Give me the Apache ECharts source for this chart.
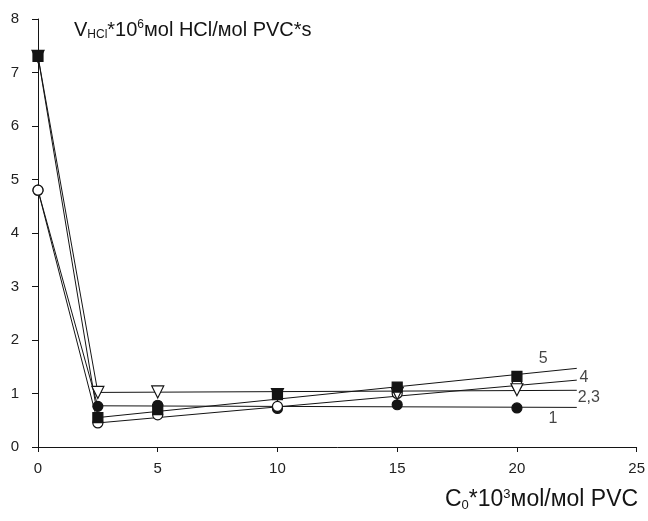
<!DOCTYPE html>
<html><head><meta charset="utf-8">
<script src="https://cdn.jsdelivr.net/npm/echarts@6/dist/echarts.min.js"></script>
<style>html,body{margin:0;padding:0;background:#fff}#c{width:648px;height:521px}</style>
</head><body><div id="c"></div>
<script>
// Measured points (x = C0*10^3, y = V_HCl*10^6)
const xs = [0, 2.5, 5, 10, 15, 20];
const s5 = [7.3, 0.55, 0.70, 0.98, 1.12, 1.32];   // filled squares
const s4 = [4.8, 0.45, 0.60, 0.76, 1.00, 1.17];   // open circles
const s23 = [7.3, 1.02, 1.03, 0.98, 1.00, 1.07];  // open triangles
const s1 = [4.8, 0.76, 0.78, 0.72, 0.79, 0.73];   // filled circles
// Straight fitted lines from 2.5 to 22.5
const fitX = [2.5, 22.5];
const fit5 = [0.55, 1.47];
const fit4 = [0.45, 1.25];
const fit23 = [1.02, 1.06];
const fit1 = [0.77, 0.74];
// curve labels
const curveNames = ['5', '4', '2,3', '1'];
const curveLabelX = [21.1, 22.8, 23.0, 21.5];
const curveLabelY = [1.66, 1.29, 0.93, 0.54];
const xTicks = [0, 5, 10, 15, 20, 25];
const yTicks = [0, 1, 2, 3, 4, 5, 6, 7, 8];

const ink = '#141414';
const font = '"Liberation Sans", Arial, sans-serif';
const pts = ys => xs.map((x, i) => [x, ys[i]]);
const conn = ys => [[xs[0], ys[0]], [xs[1], ys[1]]];
const fit = ys => fitX.map((x, i) => [x, ys[i]]);

function lineSeries(data) {
  return { type: 'line', data, symbol: 'none', silent: true, z: 2,
    lineStyle: { color: ink, width: 1 } };
}
function markSeries(data, symbol, filled, size, rotate) {
  return { type: 'scatter', data, symbol, symbolSize: size, symbolRotate: rotate || 0, z: 5,
    itemStyle: { color: filled ? ink : '#fff', borderColor: ink, borderWidth: 1.2, opacity: 1 } };
}

const chart = echarts.init(document.getElementById('c'));
chart.setOption({
  animation: false,
  backgroundColor: '#fff',
  grid: { left: 38, right: 11, top: 19, bottom: 74, containLabel: false },
  xAxis: {
    type: 'value', min: 0, max: 25, interval: 5,
    axisLine: { lineStyle: { color: ink, width: 1 } },
    axisTick: { show: true, length: 5, lineStyle: { color: ink } },
    axisLabel: { color: '#222', fontSize: 15, fontFamily: font, margin: 14,
      formatter: v => xTicks.includes(v) ? String(v) : '' },
    splitLine: { show: false }
  },
  yAxis: {
    type: 'value', min: 0, max: 8, interval: 1,
    axisLine: { show: true, lineStyle: { color: ink, width: 1 } },
    axisTick: { show: true, length: 6, lineStyle: { color: ink } },
    axisLabel: { color: '#222', fontSize: 15, fontFamily: font, margin: 19,
      formatter: v => yTicks.includes(v) ? String(v) : '' },
    splitLine: { show: false }
  },
  series: [
    lineSeries(conn(s5)), lineSeries(conn(s4)), lineSeries(conn(s23)), lineSeries(conn(s1)),
    lineSeries(fit(fit5)), lineSeries(fit(fit4)), lineSeries(fit(fit23)), lineSeries(fit(fit1)),
    markSeries(pts(s1), 'circle', true, 10),
    markSeries(pts(s4), 'circle', false, 10),
    markSeries(pts(s23), 'triangle', false, 12, 180),
    markSeries(pts(s5), 'rect', true, 10),
    { type: 'scatter', symbolSize: 0, z: 6, silent: true,
      data: curveNames.map((n, i) => ({ value: [curveLabelX[i], curveLabelY[i]], name: n })),
      label: { show: true, position: 'inside', formatter: p => p.name,
        color: ink, fontSize: 16, fontFamily: font } }
  ],
  graphic: [
    { type: 'text', left: 74, top: 19, z: 10,
      style: { text: '{n|V}{sub|HCl}{n|*10}{sup|6}{n|мol HCl/мol PVC*s}',
        fill: ink, font: '20px ' + font,
        rich: {
          n: { fontSize: 20, fontFamily: font, fill: ink },
          sub: { fontSize: 12, fontFamily: font, fill: ink, padding: [10, 0, 0, 0] },
          sup: { fontSize: 12, fontFamily: font, fill: ink, padding: [0, 0, 10, 0] }
        } } },
    { type: 'text', left: 445, top: 488, z: 10,
      style: { text: '{n|C}{sub|0}{n|*10}{sup|3}{n|мol/мol PVC}',
        fill: ink, font: '23px ' + font,
        rich: {
          n: { fontSize: 23, fontFamily: font, fill: ink },
          sub: { fontSize: 13, fontFamily: font, fill: ink, padding: [11, 0, 0, 0] },
          sup: { fontSize: 13, fontFamily: font, fill: ink, padding: [0, 0, 11, 0] }
        } } }
  ]
});
</script></body></html>
